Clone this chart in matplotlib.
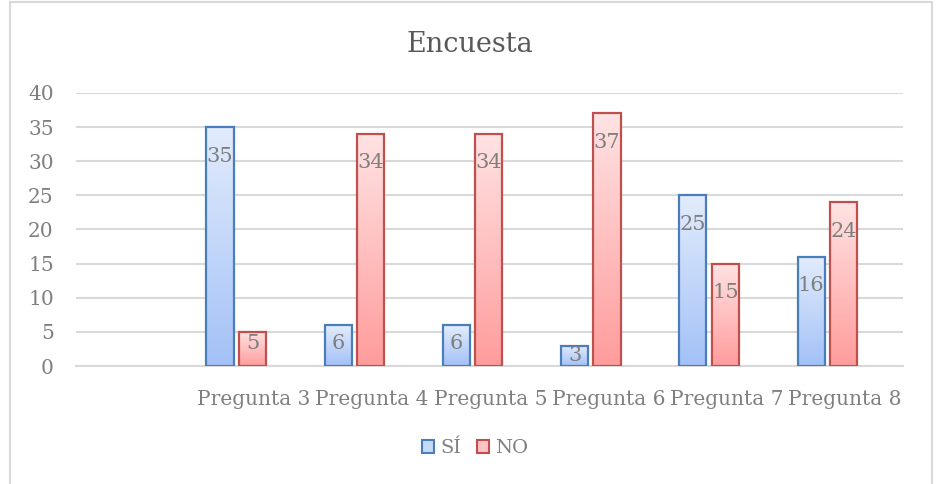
import matplotlib
matplotlib.use("Agg")
import matplotlib.pyplot as plt
from matplotlib.patches import Patch, Rectangle
from matplotlib.colors import LinearSegmentedColormap
import numpy as np

# --- datos ---
categorias = ["", "Pregunta 3", "Pregunta 4", "Pregunta 5", "Pregunta 6", "Pregunta 7", "Pregunta 8"]
si_vals = [None, 35, 6, 6, 3, 25, 16]
no_vals = [None, 5, 34, 34, 37, 15, 24]
series = ["SÍ", "NO"]
yticks = [0, 5, 10, 15, 20, 25, 30, 35, 40]

GRIS = "#7f7f7f"
plt.rcParams["font.family"] = ["DejaVu Serif"]

fig = plt.figure(figsize=(9.37, 4.84), dpi=100)
ax = fig.add_axes([0.0811, 0.2438, 0.8826, 0.5641])

# marco del grafico (el borde inferior queda fuera de la imagen)
fig.patches.append(Rectangle((0.0103, -0.05), 0.9845, 1.046, transform=fig.transFigure,
                             fill=False, edgecolor="#d9d9d9", linewidth=1.5))

cmap_si = LinearSegmentedColormap.from_list("si", ["#a3c1f7", "#e2ecfc"])
cmap_no = LinearSegmentedColormap.from_list("no", ["#ff9c9c", "#ffe3e3"])
grad = np.linspace(0, 1, 256).reshape(-1, 1)

ancho = 0.23
desp = 0.137
x = np.arange(len(categorias))
px_per_pt = 100 / 72.0


def dibujar(vals, offset, cmap, borde):
    for xi, v in zip(x, vals):
        if v is None:
            continue
        b = ax.bar(xi + offset, v, width=ancho, color="none", edgecolor=borde,
                   linewidth=1.6, zorder=3)[0]
        im = ax.imshow(grad, cmap=cmap, aspect="auto", origin="lower",
                       extent=[xi + offset - ancho / 2, xi + offset + ancho / 2, 0, v], zorder=2)
        im.set_clip_path(b)
        # etiqueta "extremo interno" (en pixeles bajo el tope de la barra)
        h = v * 6.83
        off = max(min(29, h - 23), min(h / 2, 10))
        ax.annotate(str(v), (xi + offset, v), xytext=(0, -off / px_per_pt),
                    textcoords="offset points", ha="center", va="center",
                    fontsize=15, color=GRIS, zorder=4)


dibujar(si_vals, -desp, cmap_si, "#4a7ebb")
dibujar(no_vals, desp, cmap_no, "#c0504d")

ax.set_xlim(-0.355, 6.64)
ax.set_ylim(0, 40)
ax.set_yticks(yticks)
ax.set_xticks(x + 0.15)
ax.set_xticklabels(categorias)
ax.tick_params(axis="both", length=0, labelsize=14.5, labelcolor=GRIS)
ax.tick_params(axis="x", pad=17)
ax.tick_params(axis="y", pad=16)
ax.grid(axis="y", color="#d9d9d9", linewidth=1.5, zorder=0)
ax.set_axisbelow(True)
for s in ["top", "right", "left"]:
    ax.spines[s].set_visible(False)
ax.spines["bottom"].set_color("#d9d9d9")
ax.spines["bottom"].set_linewidth(1.5)

fig.text(0.502, 0.908, "Encuesta", ha="center", va="center", fontsize=19.5, color="#595959")

handles = [Patch(facecolor="#c6d9f7", edgecolor="#4a7ebb", linewidth=1.5),
           Patch(facecolor="#ffc4c4", edgecolor="#c0504d", linewidth=1.5)]
fig.legend(handles, series, loc="center", bbox_to_anchor=(0.507, 0.074), ncol=2,
           frameon=False, fontsize=14, labelcolor=GRIS, handlelength=0.65,
           handleheight=0.65, handletextpad=0.3, columnspacing=0.8)

fig.savefig("out.png", dpi=100)
